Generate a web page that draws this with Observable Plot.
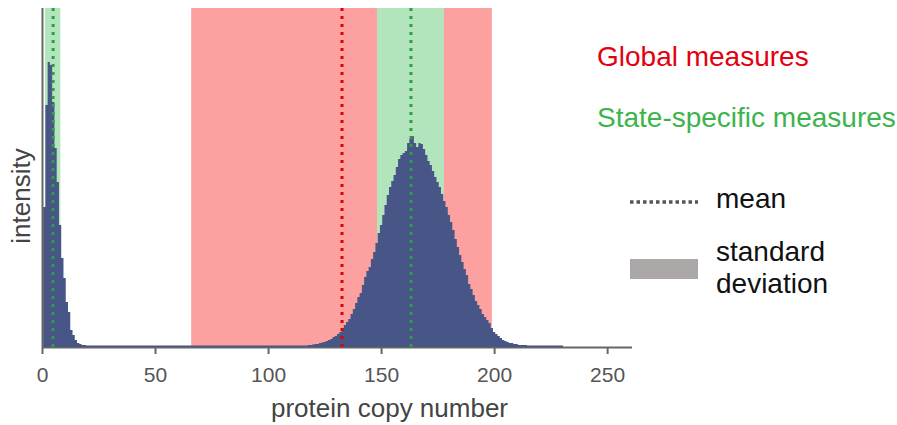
<!DOCTYPE html>
<html>
<head>
<meta charset="utf-8">
<script src="https://cdn.jsdelivr.net/npm/d3@7"></script>
<script src="https://cdn.jsdelivr.net/npm/@observablehq/plot@0.6"></script>
<style>
  html, body { margin: 0; padding: 0; background: #fff; }
  #chart { position: relative; width: 897px; height: 425px; }
</style>
</head>
<body>
<div id="chart"></div>
<script>
// ---- data ----
const firstBin = 1; // copy number of first histogram bin (bins are 1 wide, centred on integers)
const intensity = [
  140, 242, 285, 282, 245, 199, 165, 122, 89, 69,
  45, 35, 17, 12, 7, 4, 3, 2, 2, 1.5,
  1.5, 1.5, 1.5, 1.5, 1.5, 1.5, 1.5, 1.5, 1.5, 1.5,
  1.5, 1.5, 1.5, 1.5, 1.5, 1.5, 1.5, 1.5, 1.5, 1.5,
  1.5, 1.5, 1.5, 1.5, 1.5, 1.5, 1.5, 1.5, 1.5, 1.5,
  1.5, 1.5, 1.5, 1.5, 1.5, 1.5, 1.5, 1.5, 1.5, 1.5,
  1.5, 1.5, 1.5, 1.5, 1.5, 1.5, 1.5, 1.5, 1.5, 1.5,
  1.5, 1.5, 1.5, 1.5, 1.5, 1.5, 1.5, 1.5, 1.5, 1.5,
  1.5, 1.5, 1.5, 1.5, 1.5, 1.5, 1.5, 1.5, 1.5, 1.5,
  1.5, 1.5, 1.5, 1.5, 1.5, 1.5, 1.5, 1.5, 1.5, 1.5,
  1.5, 1.5, 1.5, 1.5, 1.5, 1.5, 1.5, 1.5, 1.5, 1.5,
  1.5, 1.5, 1.5, 1.5, 1.5, 1.5, 1.5, 2, 2, 2.5,
  3, 3, 4, 4.5, 5, 6, 7, 8, 10, 11,
  13, 15, 19, 22, 25, 28, 33, 38, 44, 50,
  54, 62, 70, 76, 80, 88, 95, 104, 114, 122,
  132, 142, 152, 160, 166, 172, 180, 188, 192, 194,
  196, 204, 208, 211, 204, 200, 204, 203, 198, 192,
  186, 182, 176, 170, 165, 160, 153, 146, 140, 132,
  125, 117, 108, 100, 92, 85, 78, 72, 63, 58,
  52, 46, 42, 38, 33, 30, 27, 24, 19, 15,
  13, 11, 9, 7, 6, 5, 4, 4, 3, 3,
  2, 2, 2, 2, 1.5, 1.5, 1.5, 1.5, 1.5, 1.5,
  1.5, 1.5, 1.5, 1.5, 1.5, 1.5, 1.5, 1.5, 1.5, 1.5
];

const measureGroups = ["global", "state-low", "state-high"];
const measureMeans  = [132.5, 4.7, 163];
const measureSDs    = [66.5, 3.4, 14.8];

const xTicks = [0, 50, 100, 150, 200, 250];
const xLabel = "protein copy number";
const yLabel = "intensity";
const legendTitles = ["Global measures", "State-specific measures"];
const legendItems = ["mean", "standard", "deviation"];

// ---- derived tables ----
// step outline: each bin starts at its left edge (x - 0.5); a closing point ends the last bin
const steps = intensity.map((v, i) => ({x: firstBin + i - 0.5, v}));
steps.push({x: firstBin + intensity.length - 0.5, v: intensity[intensity.length - 1]});
const measures = measureGroups.map((g, i) => ({
  group: g, mean: measureMeans[i], sd: measureSDs[i],
  global: g === "global"
}));

const redBand = "#fca0a0", greenBand = "#b3e5bd";
const redLine = "#e60000", greenLine = "#2f9e44";
const barFill = "#475686";

const plot = Plot.plot({
  width: 897,
  height: 425,
  marginLeft: 42,
  marginRight: 265,
  marginTop: 8,
  marginBottom: 78,
  style: {fontFamily: "'Liberation Sans', Arial, sans-serif", background: "#fff", overflow: "visible"},
  x: {domain: [0, 261], label: null, axis: null},
  y: {domain: [0, 339], axis: null},
  marks: [
    Plot.rect(measures, {x1: d => d.mean - d.sd, x2: d => d.mean + d.sd,
      fill: d => d.global ? redBand : greenBand}),
    Plot.ruleY([0], {stroke: "#666", strokeWidth: 2}),
    Plot.areaY(steps, {x: "x", y: "v", curve: "step-after", fill: barFill, clip: true}),
    Plot.ruleX(measures, {x: "mean", stroke: d => d.global ? redLine : greenLine,
      strokeWidth: 3, strokeDasharray: "3,5"}),
    Plot.ruleX([0], {stroke: "#666", strokeWidth: 2}),
    Plot.axisX({ticks: xTicks, tickSize: 7, tickPadding: 13, stroke: "#666", strokeWidth: 2,
      fill: "#555", fontSize: 21, label: null, tickFormat: d => String(d)}),
    Plot.text([xLabel], {frameAnchor: "bottom", textAnchor: "middle", dx: 52, dy: 69, fontSize: 26, fill: "#444"}),
    Plot.text([yLabel], {frameAnchor: "left", textAnchor: "middle", rotate: -90, dx: -21, dy: 18, fontSize: 26, fill: "#444"})
  ]
});

document.getElementById("chart").appendChild(plot);

// ---- legend (added to the same svg) ----
const svg = d3.select(plot);
const lg = svg.append("g")
  .attr("font-family", "'Liberation Sans', Arial, sans-serif")
  .attr("text-anchor", "start");
lg.append("text").attr("x", 597).attr("y", 66).attr("font-size", 28).attr("fill", "#e3000f").text(legendTitles[0]);
lg.append("text").attr("x", 597).attr("y", 127).attr("font-size", 28).attr("fill", "#3cb44b").text(legendTitles[1]);
lg.append("line").attr("x1", 630).attr("x2", 698).attr("y1", 202).attr("y2", 202)
  .attr("stroke", "#555").attr("stroke-width", 3.5).attr("stroke-dasharray", "3.5,3");
lg.append("text").attr("x", 716).attr("y", 208).attr("font-size", 28).attr("fill", "#111").text(legendItems[0]);
lg.append("rect").attr("x", 630).attr("y", 259).attr("width", 68).attr("height", 20).attr("fill", "#aca8a8");
lg.append("text").attr("x", 716).attr("y", 261).attr("font-size", 28).attr("fill", "#111").text(legendItems[1]);
lg.append("text").attr("x", 716).attr("y", 293).attr("font-size", 28).attr("fill", "#111").text(legendItems[2]);
</script>
</body>
</html>
